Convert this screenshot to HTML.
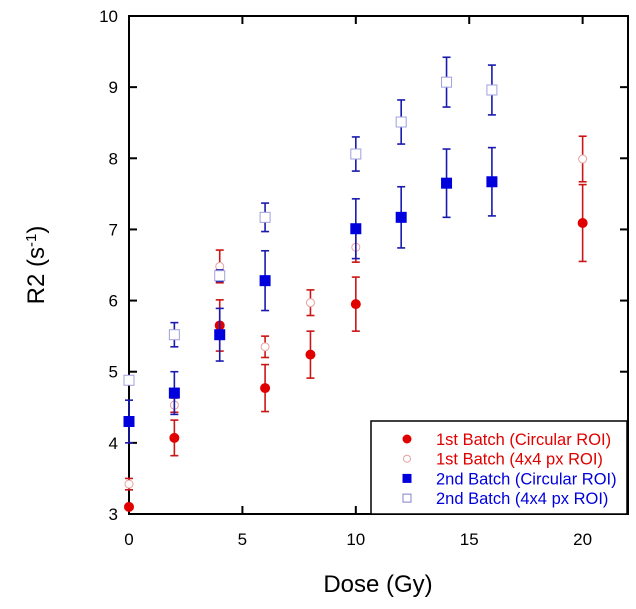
<!DOCTYPE html>
<html><head><meta charset="utf-8"><style>
body{margin:0;background:#fff;}
svg{display:block;font-family:"Liberation Sans",Arial,sans-serif;}
</style></head><body>
<svg id="chart" width="636" height="609"></svg>
<script>
const xTicks=[0,5,10,15,20];
const yTicks=[3,4,5,6,7,8,9,10];
const dose1=[0,2,4,6,8,10,20];
const b1Circ=[3.1,4.07,5.65,4.77,5.24,5.95,7.09];
const b1CircErr=[0.0,0.25,0.36,0.33,0.33,0.38,0.54];
const b1Px=[3.42,4.53,6.48,5.35,5.97,6.75,7.99];
const b1PxErr=[0.08,0.1,0.23,0.15,0.18,0.21,0.32];
const dose2=[0,2,4,6,10,12,14,16];
const b2Circ=[4.3,4.7,5.52,6.28,7.01,7.17,7.65,7.67];
const b2CircErr=[0.3,0.3,0.37,0.42,0.42,0.43,0.48,0.48];
const b2Px=[4.88,5.52,6.35,7.17,8.06,8.51,9.07,8.96];
const b2PxErr=[0.05,0.17,0.08,0.2,0.24,0.31,0.35,0.35];

const NS="http://www.w3.org/2000/svg";
const svg=document.getElementById('chart');
const L=129,R=628,T=16,B=514;
const X=v=>L+(v-0)*(R-L)/22;
const Y=v=>B-(v-3)*(B-T)/7;
function mk(tag,attrs,parent){const e=document.createElementNS(NS,tag);for(const k in attrs)e.setAttribute(k,attrs[k]);(parent||svg).appendChild(e);return e;}

const frame=mk('rect',{x:L,y:T,width:R-L,height:B-T,fill:'none',stroke:'#000','stroke-width':2});



xTicks.forEach(v=>{
  const t=mk('line',{x1:X(v),x2:X(v),y1:B,y2:B-8,stroke:'#000','stroke-width':2});
  
  
  const t2=mk('line',{x1:X(v),x2:X(v),y1:T,y2:T+8,stroke:'#000','stroke-width':2});
  
  
  const lb=mk('text',{x:X(v),y:B+31,'text-anchor':'middle','font-size':17});
  lb.textContent=v;
  
  
});
yTicks.forEach(v=>{
  const t=mk('line',{x1:L,x2:L+8,y1:Y(v),y2:Y(v),stroke:'#000','stroke-width':2});
  
  
  const t2=mk('line',{x1:R,x2:R-8,y1:Y(v),y2:Y(v),stroke:'#000','stroke-width':2});
  
  
  const lb=mk('text',{x:L-11,y:Y(v)+6,'text-anchor':'end','font-size':17});
  lb.textContent=v;
  
  
});

const xt=mk('text',{x:378,y:592,'text-anchor':'middle','font-size':24});
xt.textContent='Dose (Gy)';


const yt=mk('text',{x:0,y:0,'text-anchor':'middle','font-size':24,transform:'translate(44,265) rotate(-90)'});
yt.innerHTML='R2 (s<tspan dy="-8" font-size="15">-1</tspan><tspan dy="8">)</tspan>';



function series(xs,ys,es,color,ecolor,shape,filled,name){
  const g=mk('g',{});
  
  
  xs.forEach((d,i)=>{
    const cx=X(d),cy=Y(ys[i]),e=es[i];
    if(e>0){
      const y1=Y(ys[i]+e),y2=Y(ys[i]-e);
      mk('line',{x1:cx,x2:cx,y1:y1,y2:y2,stroke:ecolor,'stroke-width':1.6},g);
      mk('line',{x1:cx-4,x2:cx+4,y1:y1,y2:y1,stroke:ecolor,'stroke-width':1.6},g);
      mk('line',{x1:cx-4,x2:cx+4,y1:y2,y2:y2,stroke:ecolor,'stroke-width':1.6},g);
    }
    let m;
    if(shape==='c') m=mk('circle',{cx:cx,cy:cy,r:filled?4.5:4,fill:filled?color:'#fff',stroke:filled?color:'#e8a0a0','stroke-width':1},g);
    else m=mk('rect',{x:cx-5,y:cy-5,width:10,height:10,fill:filled?color:'#fff',stroke:filled?color:'#a0a0e0','stroke-width':1},g);
    
    
  });
}
series(dose1,b1Px,b1PxErr,'#e00000','#cc1515','c',false,'series-batch1-4x4');
series(dose1,b1Circ,b1CircErr,'#e00000','#cc1515','c',true,'series-batch1-circular');
series(dose2,b2Px,b2PxErr,'#0000dd','#1a1ab0','s',false,'series-batch2-4x4');
series(dose2,b2Circ,b2CircErr,'#0000dd','#1a1ab0','s',true,'series-batch2-circular');

const lg=mk('g',{});


mk('rect',{x:371,y:421,width:256,height:93,fill:'#fff',stroke:'#000','stroke-width':1.5},lg);
const entries=[['1st Batch (Circular ROI)','#e00000','c',true],['1st Batch (4x4 px ROI)','#e00000','c',false],['2nd Batch (Circular ROI)','#0000dd','s',true],['2nd Batch (4x4 px ROI)','#0000dd','s',false]];
entries.forEach((en,i)=>{
  const y=439+i*19.7;
  const g=mk('g',{},lg);
  
  
  if(en[2]==='c') mk('circle',{cx:407,cy:y,r:en[3]?4:3.5,fill:en[3]?en[1]:'#fff',stroke:en[3]?en[1]:'#e8a0a0'},g);
  else mk('rect',{x:403,y:y-4,width:8,height:8,fill:en[3]?en[1]:'#fff',stroke:en[3]?en[1]:'#8080d0'},g);
  const t=mk('text',{x:436,y:y+6,'font-size':16.5,fill:en[1]},g);
  t.textContent=en[0];
});
</script>
</body></html>
